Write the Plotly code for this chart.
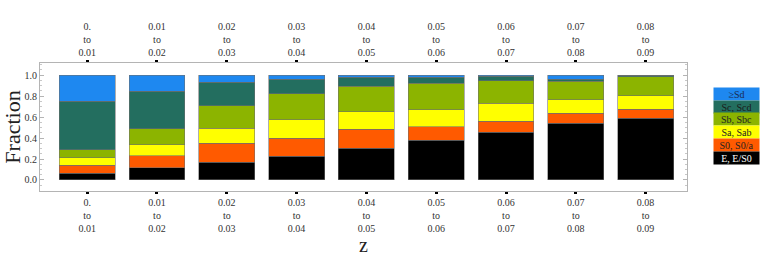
import plotly.graph_objects as go

bins = ["0.<br>to<br>0.01", "0.01<br>to<br>0.02", "0.02<br>to<br>0.03", "0.03<br>to<br>0.04",
        "0.04<br>to<br>0.05", "0.05<br>to<br>0.06", "0.06<br>to<br>0.07", "0.07<br>to<br>0.08",
        "0.08<br>to<br>0.09"]
pos = list(range(len(bins)))

e_es0 = [0.064, 0.117, 0.171, 0.225, 0.302, 0.378, 0.457, 0.540, 0.587]
s0_s0a = [0.076, 0.112, 0.178, 0.175, 0.181, 0.130, 0.102, 0.098, 0.089]
sa_sab = [0.072, 0.108, 0.143, 0.174, 0.168, 0.162, 0.171, 0.127, 0.127]
sb_sbc = [0.074, 0.149, 0.216, 0.248, 0.244, 0.251, 0.216, 0.175, 0.181]
sc_scd = [0.466, 0.362, 0.222, 0.140, 0.086, 0.057, 0.041, 0.022, 0.013]
ge_sd = [0.248, 0.152, 0.070, 0.038, 0.019, 0.022, 0.013, 0.038, 0.003]

series_names = ["E, E/S0", "S0, S0/a", "Sa, Sab", "Sb, Sbc", "Sc, Scd", "\u2265Sd"]
series_vals = [e_es0, s0_s0a, sa_sab, sb_sbc, sc_scd, ge_sd]
colors = ["#000000", "#FF5A00", "#FFFF00", "#8CB400", "#236E5F", "#1E88F0"]
legend_text_colors = ["#ffffff", "#222222", "#222222", "#222222", "#1a1a1a", "#1a2a50"]

SERIF = "Liberation Serif, Times New Roman, serif"

fig = go.Figure()
for name, vals, col in zip(series_names, series_vals, colors):
    fig.add_trace(go.Bar(x=pos, y=vals, name=name, width=0.8,
                         marker=dict(color=col, line=dict(color="rgba(110,110,110,0.7)", width=0.8)),
                         showlegend=False))
# invisible trace on top axis
fig.add_trace(go.Scatter(x=pos, y=[None]*len(pos), xaxis="x2", showlegend=False, hoverinfo="skip"))

xr = [-0.676, 8.593]
fig.update_layout(
    width=761, height=266,
    margin=dict(l=40, r=74, t=63, b=75, autoexpand=False),
    barmode="stack",
    plot_bgcolor="white", paper_bgcolor="white",
    font=dict(family=SERIF, size=10, color="#333333"),
    xaxis=dict(range=xr, tickvals=pos, ticktext=bins, showgrid=False, zeroline=False,
               automargin=False,
               showline=True, linecolor="#b4b4b4", linewidth=1,
               ticks="outside", ticklen=2, tickwidth=2.5, tickcolor="#000000",
               tickfont=dict(family=SERIF, size=10, color="#333333"),
               title=dict(text="z", font=dict(family=SERIF, size=20, color="#222222"), standoff=0)),
    xaxis2=dict(range=xr, tickvals=pos, ticktext=bins, overlaying="x", side="top",
                automargin=False,
                showgrid=False, zeroline=False, showline=True, linecolor="#b4b4b4", linewidth=1,
                ticks="outside", ticklen=2, tickwidth=2.5, tickcolor="#000000",
                tickfont=dict(family=SERIF, size=10, color="#333333")),
    yaxis=dict(range=[-0.105, 1.115], tickvals=[0, 0.2, 0.4, 0.6, 0.8, 1.0],
               ticktext=["0.0", "0.2", "0.4", "0.6", "0.8", "1.0"],
               automargin=False,
               showgrid=False, zeroline=False, showline=True, mirror="ticks",
               linecolor="#b4b4b4", linewidth=1,
               ticks="inside", ticklen=4, tickwidth=1, tickcolor="#b4b4b4",
               minor=dict(ticks="inside", ticklen=2, tickcolor="#c8c8c8", dtick=0.05, tick0=0),
               tickfont=dict(family=SERIF, size=10, color="#333333"),
               title=dict(text="Fraction", font=dict(family=SERIF, size=22, color="#222222"), standoff=11)),
)

# legend built from colored annotation boxes
row_h = 12.7
top_px = 87.7
plot_top, plot_h, plot_l, plot_w = 63, 128, 40, 647
legend_order = list(range(len(series_names)))[::-1]
for i, k in enumerate(legend_order):
    cy = top_px + row_h * (i + 0.5)
    fig.add_annotation(xref="paper", yref="paper",
                       x=(713 - plot_l) / plot_w, y=(plot_top + plot_h - cy) / plot_h,
                       xanchor="left", yanchor="middle",
                       text=series_names[k], showarrow=False,
                       bgcolor=colors[k], width=45, height=row_h - 0.7, borderpad=0,
                       font=dict(family=SERIF, size=10, color=legend_text_colors[k]))

fig.write_html("out.html", config={"displayModeBar": False},
               post_script="document.body.style.margin='0';")
